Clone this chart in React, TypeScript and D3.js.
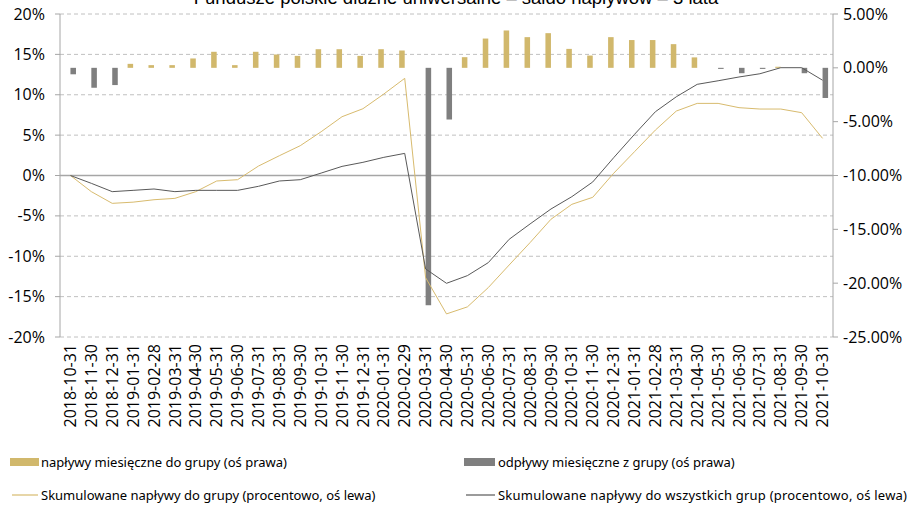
import * as d3 from "d3";
import { useEffect } from "react";

const categories = [
  "2018-10-31", "2018-11-30", "2018-12-31", "2019-01-31", "2019-02-28", "2019-03-31",
  "2019-04-30", "2019-05-31", "2019-06-30", "2019-07-31", "2019-08-31", "2019-09-30",
  "2019-10-31", "2019-11-30", "2019-12-31", "2020-01-31", "2020-02-29", "2020-03-31",
  "2020-04-30", "2020-05-31", "2020-06-30", "2020-07-31", "2020-08-31", "2020-09-30",
  "2020-10-31", "2020-11-30", "2020-12-31", "2021-01-31", "2021-02-28", "2021-03-31",
  "2021-04-30", "2021-05-31", "2021-06-30", "2021-07-31", "2021-08-31", "2021-09-30",
  "2021-10-31",
];

// monthly flows, right axis (%)
const inflows = [
  0, 0, 0, 0.37, 0.25, 0.25, 0.87, 1.49, 0.25, 1.49, 1.24, 1.11,
  1.73, 1.73, 1.11, 1.73, 1.61, 0, 0, 0.99, 2.72, 3.47, 2.85, 3.22,
  1.76, 1.14, 2.85, 2.58, 2.58, 2.2, 0.97, 0, 0, 0, 0.1, 0, 0,
];
const outflows = [
  -0.6, -1.85, -1.6, 0, 0, 0, 0, 0, 0, 0, 0, 0,
  0, 0, 0, 0, 0, -22.05, -4.8, 0, 0, 0, 0, 0,
  0, 0, 0, 0, 0, 0, 0, -0.1, -0.5, -0.1, 0, -0.5, -2.8,
];

// cumulative flows, left axis (%)
const groupCumulative = [
  0, -2.0, -3.45, -3.3, -3.0, -2.83, -2.0, -0.68, -0.52, 1.17, 2.45, 3.69,
  5.42, 7.28, 8.27, 10.09, 12.03, -12.65, -17.14, -16.27, -13.88, -11.08, -8.31, -5.42,
  -3.57, -2.7, 0.27, 2.95, 5.63, 7.98, 8.93, 8.93, 8.4, 8.23, 8.23, 7.78, 4.6,
];
const allCumulative = [
  0, -0.97, -2.0, -1.84, -1.67, -2.0, -1.84, -1.84, -1.84, -1.34, -0.68, -0.52,
  0.3, 1.13, 1.63, 2.25, 2.74, -11.57, -13.35, -12.4, -10.79, -7.9, -6.0, -4.15,
  -2.62, -0.8, 2.2, 5.1, 7.9, 9.75, 11.29, 11.73, 12.2, 12.6, 13.35, 13.35, 11.8,
];

const leftTicks = [20, 15, 10, 5, 0, -5, -10, -15, -20];
const rightTicks = [5, 0, -5, -10, -15, -20, -25];

const title = "Fundusze polskie dłużne uniwersalne – saldo napływów – 3 lata";
const legendLabels = [
  "napływy miesięczne do grupy (oś prawa)",
  "odpływy miesięczne z grupy (oś prawa)",
  "Skumulowane napływy do grupy (procentowo, oś lewa)",
  "Skumulowane napływy do wszystkich grup (procentowo, oś lewa)",
];

const W = 909;
const H = 506;
const margin = { top: 14, right: 76, bottom: 169, left: 60 };
const gold = "#d1b86c";
const goldLine = "#d8bb6e";
const grayBar = "#7f7f7f";
const grayLine = "#595959";
const axisColor = "#a6a6a6";
const tickFont = "'Open Sans', 'Noto Sans', sans-serif";
const legendFont = "'Noto Sans', sans-serif";

export default function App() {
  useEffect(() => {
    document.body.style.margin = "0";
  }, []);

  const x0 = margin.left;
  const x1 = W - margin.right;
  const yTop = margin.top;
  const yBottom = H - margin.bottom;

  const x = d3.scaleBand<string>().domain(categories).range([x0, x1]).paddingInner(0.47).paddingOuter(0.235);
  const sub = d3.scaleBand<string>().domain(["in", "out"]).range([0, x.bandwidth()]);
  const yL = d3.scaleLinear().domain([-20, 20]).range([yBottom, yTop]);
  const yR = d3.scaleLinear().domain([-25, 5]).range([yBottom, yTop]);
  const cx = (c: string) => (x(c) ?? 0) + x.bandwidth() / 2;

  const line = d3.line<number>()
    .x((_, i) => cx(categories[i]))
    .y((d) => yL(d));

  return (
    <svg width={W} height={H} style={{ position: "absolute", left: 0, top: 0, background: "#fff" }}>
      <text x={456} y={4} textAnchor="middle" fontFamily="'Liberation Sans', Arial, sans-serif" fontSize={18.5} fill="#000">
        {title}
      </text>

      {/* gridlines */}
      {leftTicks.map((t) => (
        <line
          key={"g" + t}
          x1={x0}
          x2={x1}
          y1={yL(t)}
          y2={yL(t)}
          stroke={t === 0 ? axisColor : "#c0c0c0"}
          strokeWidth={t === 0 ? 1.5 : 1}
          strokeDasharray={t === 0 ? undefined : "4,3"}
        />
      ))}

      {/* left axis */}
      <line x1={x0} x2={x0} y1={yTop} y2={yBottom} stroke={axisColor} />
      {leftTicks.map((t) => (
        <g key={"l" + t}>
          <line x1={x0 - 5} x2={x0} y1={yL(t)} y2={yL(t)} stroke={axisColor} />
          <text x={45} y={yL(t)} dy="0.35em" textAnchor="end" fontFamily={tickFont} fontSize={16} fill="#000">
            {t}%
          </text>
        </g>
      ))}

      {/* right axis */}
      <line x1={x1} x2={x1} y1={yTop} y2={yBottom} stroke={axisColor} />
      {rightTicks.map((t) => (
        <g key={"r" + t}>
          <line x1={x1} x2={x1 + 5} y1={yR(t)} y2={yR(t)} stroke={axisColor} />
          <text x={843} y={yR(t)} dy="0.35em" textAnchor="start" fontFamily={tickFont} fontSize={16} fill="#000">
            {t.toFixed(2)}%
          </text>
        </g>
      ))}

      {/* bars */}
      {categories.map((c, i) => (
        <g key={"b" + c}>
          {inflows[i] !== 0 && (
            <rect
              x={(x(c) ?? 0) + (sub("in") ?? 0)}
              width={sub.bandwidth()}
              y={yR(inflows[i])}
              height={yR(0) - yR(inflows[i])}
              fill={gold}
            />
          )}
          {outflows[i] !== 0 && (
            <rect
              x={(x(c) ?? 0) + (sub("out") ?? 0)}
              width={sub.bandwidth()}
              y={yR(0)}
              height={yR(outflows[i]) - yR(0)}
              fill={grayBar}
            />
          )}
        </g>
      ))}

      {/* lines */}
      <path d={line(groupCumulative) ?? ""} fill="none" stroke={goldLine} strokeWidth={1} />
      <path d={line(allCumulative) ?? ""} fill="none" stroke={grayLine} strokeWidth={1} />

      {/* x labels */}
      {categories.map((c) => (
        <text
          key={"x" + c}
          transform={`translate(${cx(c)},${yBottom + 7}) rotate(-90)`}
          dy="0.35em"
          textAnchor="end"
          fontFamily={tickFont}
          fontSize={16}
          fill="#000"
        >
          {c}
        </text>
      ))}

      {/* legend */}
      <g fontFamily={legendFont} fontSize={13} fill="#000">
        <rect x={10} y={458} width={29} height={8} fill={gold} />
        <text x={41} y={462} dy="0.35em">{legendLabels[0]}</text>
        <rect x={464} y={458} width={31} height={8} fill={grayBar} />
        <text x={498} y={462} dy="0.35em">{legendLabels[1]}</text>
        <line x1={12} x2={38} y1={495} y2={495} stroke={goldLine} strokeWidth={1.2} />
        <text x={41} y={495} dy="0.35em">{legendLabels[2]}</text>
        <line x1={466} x2={495} y1={495} y2={495} stroke={grayLine} strokeWidth={1.2} />
        <text x={498} y={495} dy="0.35em" textLength={409}>{legendLabels[3]}</text>
      </g>
    </svg>
  );
}
